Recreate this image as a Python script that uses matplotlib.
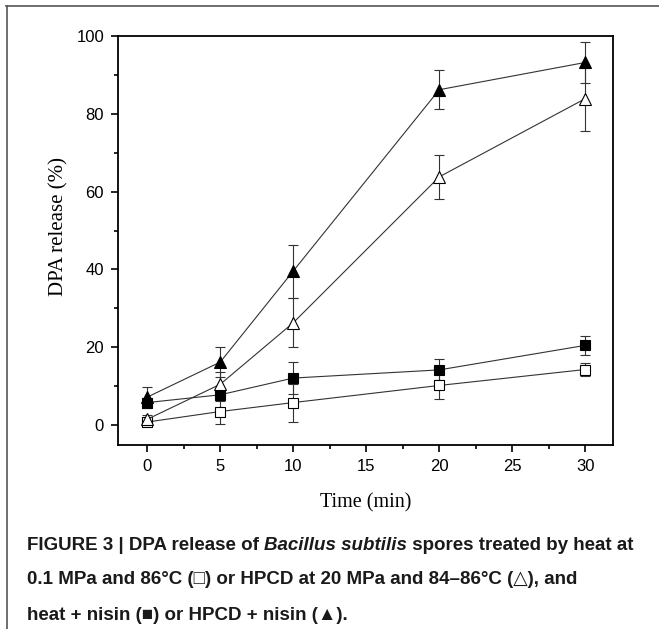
import matplotlib
matplotlib.use("Agg")
import matplotlib.pyplot as plt
from matplotlib.lines import Line2D
from matplotlib.ticker import MultipleLocator
from matplotlib import font_manager

time = [0, 5, 10, 20, 30]
heat = [0.8, 3.5, 5.8, 10.2, 14.3]
heat_err = [0.6, 3.2, 4.9, 3.6, 1.6]
heat_nisin = [5.8, 7.8, 12.1, 14.2, 20.5]
heat_nisin_err = [1.2, 1.6, 4.2, 2.7, 2.5]
hpcd = [1.5, 10.5, 26.3, 63.8, 83.9]
hpcd_err = [1.2, 3.2, 6.3, 5.6, 8.2]
hpcd_nisin = [7.2, 16.2, 39.6, 86.2, 93.2]
hpcd_nisin_err = [2.7, 3.9, 6.8, 5.0, 5.2]

x_ticks = [0, 5, 10, 15, 20, 25, 30]
y_ticks = [0, 20, 40, 60, 80, 100]

W, H = 659, 629
fig = plt.figure(figsize=(W / 100, H / 100), dpi=100)
ax = fig.add_axes([118 / W, 1 - 445 / H, (613 - 118) / W, (445 - 36) / H])

series = [
    (heat, heat_err, 's', 'white', 6.5),
    (heat_nisin, heat_nisin_err, 's', 'black', 6.5),
    (hpcd, hpcd_err, '^', 'white', 8.5),
    (hpcd_nisin, hpcd_nisin_err, '^', 'black', 8.5),
]
for vals, errs, mk, fc, ms in series:
    ax.errorbar(time, vals, yerr=errs, fmt='-', color='#333333', lw=0.8,
                marker=mk, mfc=fc, mec='black', mew=0.8, ms=ms,
                ecolor='#333333', elinewidth=0.8, capsize=3.5, capthick=0.8)

ax.set_xlim(-2.0, 31.9)
ax.set_ylim(-5.1, 100)
ax.set_xticks(x_ticks)
ax.set_yticks(y_ticks)
ax.xaxis.set_minor_locator(MultipleLocator(2.5))
ax.yaxis.set_minor_locator(MultipleLocator(10))
ax.tick_params(which='both', direction='out', top=False, right=False, width=1.2)
ax.tick_params(which='major', length=5, labelsize=12, pad=5)
ax.tick_params(which='minor', length=3)
for lab in ax.get_xticklabels() + ax.get_yticklabels():
    lab.set_fontfamily('Liberation Sans')
for s in ax.spines.values():
    s.set_linewidth(1.3)

ax.set_xlabel('Time (min)', fontfamily='Liberation Serif', fontsize=14.5, labelpad=14)
ax.set_ylabel('DPA release (%)', fontfamily='Liberation Serif', fontsize=15)
ax.yaxis.set_label_coords(-0.101, 0.535)

# frame lines (top and left)
fig.add_artist(Line2D([6 / W, 1], [1 - 6 / H, 1 - 6 / H], color='#555555', lw=1.2))
fig.add_artist(Line2D([6.5 / W, 6.5 / W], [0, 1 - 6 / H], color='#555555', lw=1.2))

# caption with mixed styles
try:
    font_manager.findfont(font_manager.FontProperties(family='Liberation Sans Narrow'),
                          fallback_to_default=False)
    fam = ['Liberation Sans Narrow', 'DejaVu Sans']
except Exception:
    fam = ['Liberation Sans', 'DejaVu Sans']

lines = [
    [("FIGURE 3 | DPA release of ", 'normal'), ("Bacillus subtilis", 'italic'),
     (" spores treated by heat at", 'normal')],
    [("0.1 MPa and 86°C (□) or HPCD at 20 MPa and 84–86°C (△), and", 'normal')],
    [("heat + nisin (■) or HPCD + nisin (▲).", 'normal')],
]
renderer = fig.canvas.get_renderer()

def line_width(parts, fs):
    w = 0
    tmp = []
    for txt, style in parts:
        t = fig.text(0, 0, txt, fontsize=fs, fontweight='bold', fontstyle=style, family=fam)
        w += t.get_window_extent(renderer=renderer).width
        tmp.append(t)
    for t in tmp:
        t.remove()
    return w

fs = 13.0
fs = fs * (632 - 27) / line_width(lines[0], fs)

ys = [545, 580, 615]
for parts, yc in zip(lines, ys):
    x = 27
    for txt, style in parts:
        t = fig.text(x / W, 1 - yc / H, txt, fontsize=fs, fontweight='bold',
                     fontstyle=style, family=fam, va='center', ha='left',
                     color='#1a1a1a')
        bb = t.get_window_extent(renderer=renderer)
        x += bb.width

fig.savefig('out.png', dpi=100)
